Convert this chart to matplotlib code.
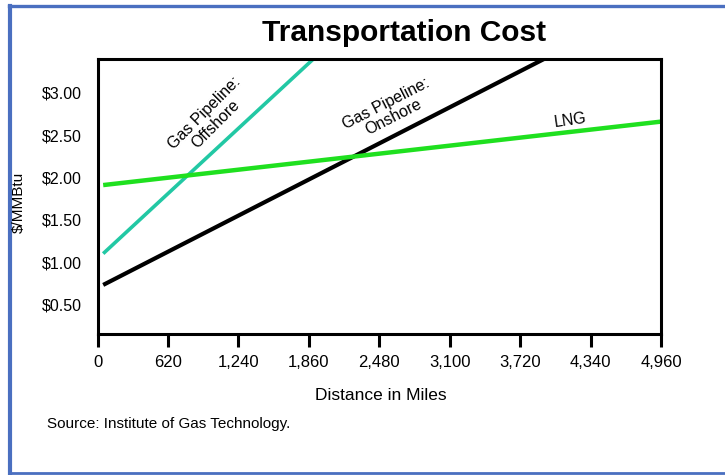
import matplotlib
matplotlib.use("Agg")
import matplotlib.pyplot as plt
from matplotlib.lines import Line2D
from matplotlib.ticker import FuncFormatter

plt.rcParams['font.family'] = ['Liberation Sans', 'DejaVu Sans']

# Cost lines: distance (miles) vs. cost ($/MMBtu)
offshore_x = [50, 1900]
offshore_y = [1.10, 3.40]
onshore_x = [50, 3930]
onshore_y = [0.73, 3.40]
lng_x = [50, 4960]
lng_y = [1.91, 2.66]

x_ticks = [0, 620, 1240, 1860, 2480, 3100, 3720, 4340, 4960]
y_ticks = [0.5, 1.0, 1.5, 2.0, 2.5, 3.0]

W, H = 725, 475
fig = plt.figure(figsize=(W / 100, H / 100), dpi=100)
fig.patch.set_facecolor('white')

# Plot area
left, right, top, bottom = 97.5, 661, 59, 334
ax = fig.add_axes([left / W, 1 - bottom / H, (right - left) / W, (bottom - top) / H])

ax.plot(offshore_x, offshore_y, color='#22c8a4', lw=2.6, solid_capstyle='butt')
ax.plot(onshore_x, onshore_y, color='black', lw=3.0, solid_capstyle='butt')
ax.plot(lng_x, lng_y, color='#1fe01f', lw=3.2, solid_capstyle='butt')

ax.set_xlim(0, 4960)
ax.set_ylim(0.15, 3.40)

ax.set_xticks(x_ticks)
ax.xaxis.set_major_formatter(FuncFormatter(lambda v, p: f"{int(v):,}"))
ax.set_yticks(y_ticks)
ax.yaxis.set_major_formatter(FuncFormatter(lambda v, p: f"${v:.2f}"))

ax.tick_params(axis='x', direction='out', length=9.5, width=2.2, pad=5.5,
               labelsize=12, colors='black')
ax.tick_params(axis='y', length=0, pad=11, labelsize=11.5)

for s in ax.spines.values():
    s.set_linewidth(2.2)
    s.set_color('black')

# Line labels
ax.text(990, 2.70, "Gas Pipeline:\nOffshore", rotation=45, ha='center', va='center',
        fontsize=11.5, linespacing=1.05, rotation_mode='anchor')
ax.text(2575, 2.79, "Gas Pipeline:\nOnshore", rotation=27, ha='center', va='center',
        fontsize=11.5, linespacing=1.05, rotation_mode='anchor')
ax.text(4159, 2.68, "LNG", rotation=8, ha='center', va='center', fontsize=11.5,
        rotation_mode='anchor')

# Titles and captions
fig.text(404 / W, 1 - 33 / H, "Transportation Cost", ha='center', va='center',
         fontsize=21.5, fontweight='bold')
fig.text(19 / W, 1 - 202 / H, "$/MMBtu", rotation=90, ha='center', va='center',
         fontsize=11)
fig.text(381 / W, 1 - 396 / H, "Distance in Miles", ha='center', va='center',
         fontsize=12.5)
fig.text(47 / W, 1 - 424 / H, "Source: Institute of Gas Technology.", ha='left',
         va='center', fontsize=11)

# Blue frame around the figure
frame_color = '#4a6fc0'
fig.add_artist(Line2D([10 / W, 10 / W], [1 - 5.5 / H, 1 - 473 / H], color=frame_color,
                      lw=3.0, transform=fig.transFigure))
fig.add_artist(Line2D([8.5 / W, 1.0], [1 - 5.5 / H, 1 - 5.5 / H], color=frame_color,
                      lw=2.4, transform=fig.transFigure))
fig.add_artist(Line2D([8.5 / W, 1.0], [1 - 473 / H, 1 - 473 / H], color=frame_color,
                      lw=2.0, transform=fig.transFigure))

fig.savefig("out.png", dpi=100)
